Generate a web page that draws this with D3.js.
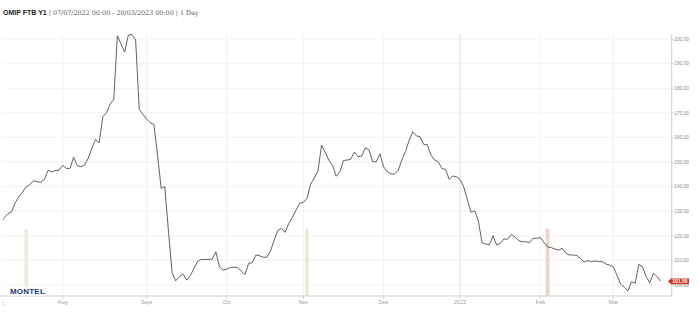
<!DOCTYPE html>
<html>
<head>
<meta charset="utf-8">
<script src="https://cdn.jsdelivr.net/npm/d3@7"></script>
<style>
  html, body { margin: 0; padding: 0; background: #fff; }
  svg { display: block; }
</style>
</head>
<body>
<svg id="chart" width="699" height="318"></svg>
<script>
// ---- data ----
const titleMain = "OMIP FTB Y1";
const titleRest = " | 07/07/2022 00:00 - 20/03/2023 00:00 | 1 Day";
const startDate = "2022-07-07";
const endDate = "2023-03-20";
const holidays = ["2022-12-26"];

const values = [
  124.5, 127.5, 129.0, 129.8, 133.5, 136.0, 137.8, 140.0, 140.8, 142.4,
  142.0, 141.7, 143.0, 146.6, 146.0, 146.5, 146.7, 148.6, 147.4, 147.4,
  151.9, 148.5, 148.1, 148.8, 151.5, 155.6, 159.2, 157.8, 168.4, 170.0,
  173.5, 175.5, 201.3, 198.0, 194.7, 201.6, 201.9, 199.6, 171.4, 169.4,
  167.5, 166.0, 165.3, 153.0, 139.3, 140.0, 122.0, 105.0, 101.7, 103.4,
  104.5, 102.0, 103.8, 106.8, 109.6, 110.4, 110.4, 110.4, 110.5, 113.5,
  107.4, 106.0, 106.4, 107.2, 107.2, 107.1, 105.6, 104.3, 108.8, 109.1,
  112.2, 111.9, 111.3, 111.3, 113.8, 118.3, 122.2, 123.0, 121.4, 125.0,
  127.5, 130.5, 133.2, 133.6, 135.2, 141.0, 143.5, 146.3, 156.9, 154.0,
  150.6, 148.8, 144.2, 146.0, 150.6, 150.8, 151.1, 154.0, 152.2, 152.4,
  155.8, 154.9, 150.1, 150.1, 153.3, 148.1, 146.0, 145.2, 145.1, 146.5,
  150.8, 154.2, 158.8, 162.3, 160.6, 160.3, 157.2, 157.0, 152.8, 150.8,
  150.1, 147.3, 147.0, 142.9, 144.3, 144.0, 142.9, 139.8, 134.5, 129.6,
  130.1, 126.0, 117.2, 116.7, 116.3, 120.0, 116.3, 116.9, 118.7, 118.6,
  120.5, 119.6, 118.1, 117.6, 117.6, 117.2, 119.0, 119.0, 119.3, 117.3,
  115.5, 115.2, 114.6, 114.2, 114.9, 112.9, 112.2, 112.2, 112.0, 110.8,
  109.3, 109.9, 109.5, 109.8, 109.5, 109.5, 108.5, 108.1, 107.4, 104.0,
  100.4, 99.1, 97.6, 101.3, 100.7, 108.4, 107.4, 103.4, 100.9, 104.8,
  103.4, 101.5
];

const monthLabels = ["Aug", "Sept", "Oct", "Nov", "Dec", "2022", "Feb", "Mar"];
const monthDates = ["2022-08-01", "2022-09-01", "2022-10-01", "2022-11-01",
                    "2022-12-01", "2023-01-01", "2023-02-01", "2023-03-01"];
const edgeLabel = "|";
const yTicks = [100, 110, 120, 130, 140, 150, 160, 170, 180, 190, 200];
const bandDates = ["2022-07-18", "2022-11-02", "2023-02-03"];
const bandKinds = ["green", "green", "red"];
const lastLabel = "101.50";

// ---- layout ----
const W = 699, H = 318;
const plotLeft = 3.3, plotRight = 671.7, plotTop = 34, plotBottom = 296;

const parse = d3.utcParse("%Y-%m-%d");
const fmt = d3.utcFormat("%Y-%m-%d");
const days = d3.utcDay.range(parse(startDate), d3.utcDay.offset(parse(endDate), 1))
  .filter(d => d.getUTCDay() % 6 !== 0 && !holidays.includes(fmt(d)));

const x = d3.scaleLinear().domain([0, values.length - 1]).range([0.7, 660.7]);
const y = d3.scaleLinear().domain([100, 200]).range([285, 39]);
const idxOf = s => { const t = parse(s); return days.findIndex(d => d >= t); };

const svg = d3.select("#chart");

svg.append("defs").append("clipPath").attr("id", "plotclip")
  .append("rect").attr("x", plotLeft).attr("y", plotTop)
  .attr("width", plotRight - plotLeft).attr("height", plotBottom - plotTop);

// horizontal grid
svg.append("g").selectAll("line").data(yTicks).join("line")
  .attr("x1", plotLeft).attr("x2", plotRight)
  .attr("y1", d => y(d)).attr("y2", d => y(d))
  .attr("stroke", "#efefef").attr("stroke-width", 0.8);

// vertical grid
svg.append("g").selectAll("line").data(monthDates).join("line")
  .attr("x1", d => x(idxOf(d))).attr("x2", d => x(idxOf(d)))
  .attr("y1", plotTop).attr("y2", plotBottom)
  .attr("stroke", (d, i) => monthLabels[i] === "2022" ? "#d6d6d6" : "#efefef")
  .attr("stroke-width", 0.8);

// bands
const bandTop = y(122.8);
svg.append("g").selectAll("rect").data(bandDates).join("rect")
  .attr("x", d => x(idxOf(d) - 0.5))
  .attr("width", x(1) - x(0))
  .attr("y", bandTop)
  .attr("height", plotBottom - bandTop)
  .attr("fill", (d, i) => bandKinds[i] === "green" ? "#e3eedb" : "#f2d0c8");

// line
svg.append("path").datum(values)
  .attr("clip-path", "url(#plotclip)")
  .attr("fill", "none").attr("stroke", "#3a3a3a").attr("stroke-width", 0.8)
  .attr("stroke-linejoin", "round")
  .attr("d", d3.line().x((d, i) => x(i)).y(d => y(d)));

// x axis
svg.append("line").attr("x1", 0).attr("x2", plotRight)
  .attr("y1", plotBottom).attr("y2", plotBottom)
  .attr("stroke", "#cfcfcf").attr("stroke-width", 1);
svg.append("g").selectAll("line").data(monthDates).join("line")
  .attr("x1", d => x(idxOf(d))).attr("x2", d => x(idxOf(d)))
  .attr("y1", plotBottom).attr("y2", plotBottom + 3)
  .attr("stroke", "#cfcfcf").attr("stroke-width", 0.8);
svg.append("g").selectAll("text").data(monthDates).join("text")
  .attr("x", d => x(idxOf(d))).attr("y", 304)
  .attr("text-anchor", "middle")
  .attr("font-family", "Liberation Sans, Arial, sans-serif")
  .attr("font-size", 5.5).attr("fill", "#a0a0a0")
  .text((d, i) => monthLabels[i]);
svg.append("text").attr("x", 3.3).attr("y", 304.5).attr("text-anchor", "middle")
  .attr("font-family", "Liberation Sans, Arial, sans-serif")
  .attr("font-size", 5.5).attr("fill", "#b0b0b0").text(edgeLabel);

// right y axis
svg.append("line").attr("x1", plotRight).attr("x2", plotRight)
  .attr("y1", plotTop).attr("y2", plotBottom)
  .attr("stroke", "#cfcfcf").attr("stroke-width", 1);
svg.append("g").selectAll("line").data(yTicks).join("line")
  .attr("x1", plotRight).attr("x2", plotRight + 2)
  .attr("y1", d => y(d)).attr("y2", d => y(d))
  .attr("stroke", "#cfcfcf").attr("stroke-width", 0.8);
svg.append("g").selectAll("text").data(yTicks).join("text")
  .attr("x", plotRight + 2.6).attr("y", d => y(d) + 1.7)
  .attr("font-family", "Liberation Sans, Arial, sans-serif")
  .attr("font-size", 4.8).attr("fill", "#8a8a8a")
  .text(d => d3.format(".2f")(d));

// last value flag
const ly = y(values[values.length - 1]);
const fx = 668;
svg.append("path")
  .attr("d", `M${fx},${ly} L${fx + 3},${ly - 2.9} L${fx + 21},${ly - 2.9} L${fx + 21},${ly + 2.9} L${fx + 3},${ly + 2.9} Z`)
  .attr("fill", "#c8341e");
svg.append("text").attr("x", fx + 12).attr("y", ly + 1.8).attr("text-anchor", "middle")
  .attr("font-family", "Liberation Sans, Arial, sans-serif").attr("font-weight", "bold")
  .attr("font-size", 5).attr("fill", "#fff").text(lastLabel);

// logo
svg.append("rect").attr("x", 8).attr("y", 287).attr("width", 38).attr("height", 8.5).attr("fill", "#fff");
svg.append("text").attr("x", 10).attr("y", 294.3)
  .attr("font-family", "Liberation Sans, Arial, sans-serif").attr("font-weight", "bold")
  .attr("font-size", 8).attr("letter-spacing", 0.2).attr("fill", "#1d3a6d")
  .text("MONTEL");

// title
const t = svg.append("text").attr("x", 3).attr("y", 14.5);
t.append("tspan").attr("font-family", "Liberation Sans, Arial, sans-serif")
  .attr("font-weight", "bold").attr("font-size", 7).attr("fill", "#222").text(titleMain);
t.append("tspan").attr("font-family", "DejaVu Serif, Georgia, serif")
  .attr("font-size", 6.4).attr("fill", "#555").text(titleRest);
</script>
</body>
</html>
